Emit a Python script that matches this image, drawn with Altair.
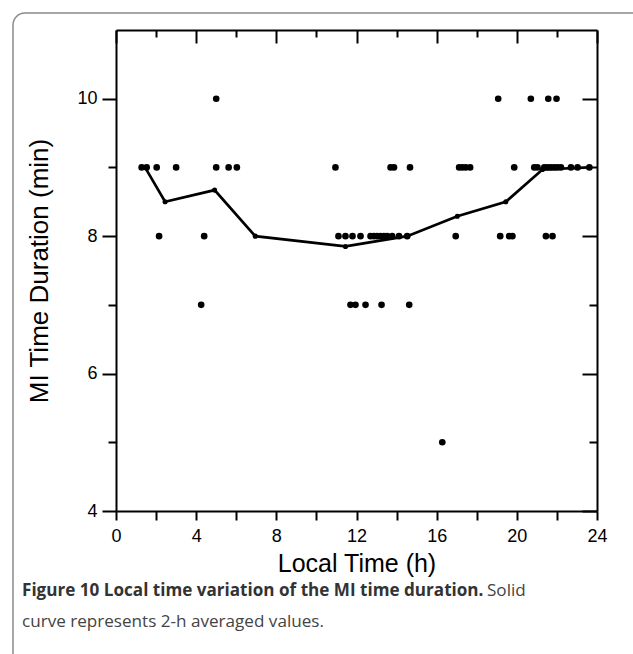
import altair as alt
import pandas as pd

# ---- data ----
dur10 = [5.0, 19.07, 20.7, 21.57, 21.98]
dur9 = [1.28, 1.53, 2.03, 3.0, 5.0, 5.62, 6.03, 10.95, 13.7, 13.87, 14.67,
        17.12, 17.28, 17.45, 17.67, 19.87, 20.87, 21.03, 21.37, 21.53, 21.7,
        21.87, 22.03, 22.2, 22.7, 23.03, 23.62]
dur8 = [2.15, 4.4, 11.1, 11.45, 11.8, 12.2, 12.7, 12.87, 13.03, 13.2, 13.37,
        13.53, 13.78, 14.12, 14.53, 16.95, 19.17, 19.62, 19.78, 21.45, 21.78]
dur7 = [4.25, 11.7, 11.95, 12.45, 13.25, 14.63]
dur5 = [16.28]

avg_time = [1.45, 2.45, 4.92, 6.95, 11.45, 14.53, 17.03, 19.45, 21.28, 23.6]
avg_dur = [9.0, 8.5, 8.67, 8.0, 7.85, 8.0, 8.29, 8.5, 8.97, 9.0]

x_ticks = list(range(0, 25, 2))
y_ticks = list(range(4, 11))

caption_bold = ["Figure 10 Local time variation of the MI time duration."]
caption_rest1 = ["Solid"]
caption_rest2 = ["curve represents 2-h averaged values."]

rows = []
for val, times in [(10, dur10), (9, dur9), (8, dur8), (7, dur7), (5, dur5)]:
    for t in times:
        rows.append({"t": t, "d": val})
pts = pd.DataFrame(rows)
avg = pd.DataFrame({"t": avg_time, "d": avg_dur})

FONT = "Liberation Sans"
CAP_FONT = "Open Sans"

xscale = alt.Scale(domain=[0, 24], nice=False, zero=False)
yscale = alt.Scale(domain=[4, 11], nice=False, zero=False)

common = dict(domainColor="black", domainWidth=2, tickColor="black", tickWidth=2,
              grid=False, labelFont=FONT, labelColor="black", labelFontSize=18,
              titleFont=FONT, titleColor="black", titleFontWeight="normal",
              labelOverlap=False, labelFlush=False)

x_bottom = alt.Axis(orient="bottom", values=x_ticks,
                    labelExpr="datum.value % 4 === 0 ? datum.label : ''",
                    tickSize=9, labelPadding=7, title="Local Time (h)",
                    titleFontSize=25, titlePadding=6, **common)
y_left = alt.Axis(orient="left", values=y_ticks,
                  labelExpr="datum.value % 2 === 0 ? datum.label : ''",
                  tickSize={"condition": {"test": "datum.value % 2 === 0", "value": 14}, "value": 8},
                  labelPadding=5, title="MI Time Duration (min)",
                  titleFontSize=26, titlePadding=24, **common)
x_top = alt.Axis(orient="top", values=x_ticks, labels=False, title=None,
                 tickSize={"condition": {"test": "datum.value % 4 === 0", "value": -13}, "value": -7},
                 **common)
y_right = alt.Axis(orient="right", values=y_ticks, labels=False, title=None,
                   tickSize={"condition": {"test": "datum.value % 2 === 0", "value": -15}, "value": -8},
                   **common)

points = alt.Chart(pts).mark_circle(size=44, color="black", opacity=1).encode(
    x=alt.X("t:Q", scale=xscale, axis=x_bottom),
    y=alt.Y("d:Q", scale=yscale, axis=y_left),
)
line = alt.Chart(avg).mark_line(color="black", strokeWidth=2.7).encode(
    x=alt.X("t:Q", scale=xscale, axis=x_top),
    y=alt.Y("d:Q", scale=yscale, axis=y_right),
)
verts = alt.Chart(avg).mark_circle(size=26, color="black", opacity=1).encode(
    x=alt.X("t:Q", axis=None),
    y=alt.Y("d:Q", axis=None),
)

frame = alt.Chart(pd.DataFrame({"k": [0]})).mark_rect(
    fill="transparent", stroke="#8a8a8a", strokeWidth=1.5, cornerRadius=12, clip=False
).encode(x=alt.value(-103), y=alt.value(-17), x2=alt.value(540), y2=alt.value(640))

cap1 = alt.Chart(pd.DataFrame({"txt": caption_bold})).mark_text(
    font=CAP_FONT, fontSize=17.1, fontWeight="bold", color="#333333",
    align="left", baseline="middle"
).encode(x=alt.value(-94), y=alt.value(561), text="txt:N")
cap2 = alt.Chart(pd.DataFrame({"txt": caption_rest1})).mark_text(
    font=CAP_FONT, fontSize=17.1, color="#444444", align="left", baseline="middle"
).encode(x=alt.value(371), y=alt.value(561), text="txt:N")
cap3 = alt.Chart(pd.DataFrame({"txt": caption_rest2})).mark_text(
    font=CAP_FONT, fontSize=17.1, color="#444444", align="left", baseline="middle"
).encode(x=alt.value(-94), y=alt.value(592), text="txt:N")

chart = alt.layer(frame, points, line, verts, cap1, cap2, cap3).resolve_axis(
    x="independent", y="independent"
).properties(
    width=481, height=481,
    autosize=alt.AutoSizeParams(type="none"),
    padding={"left": 116, "top": 30, "right": 36, "bottom": 143},
    background="white",
).configure_view(stroke=None)

chart.save("out.html", embed_options={"renderer": "svg", "actions": False})
